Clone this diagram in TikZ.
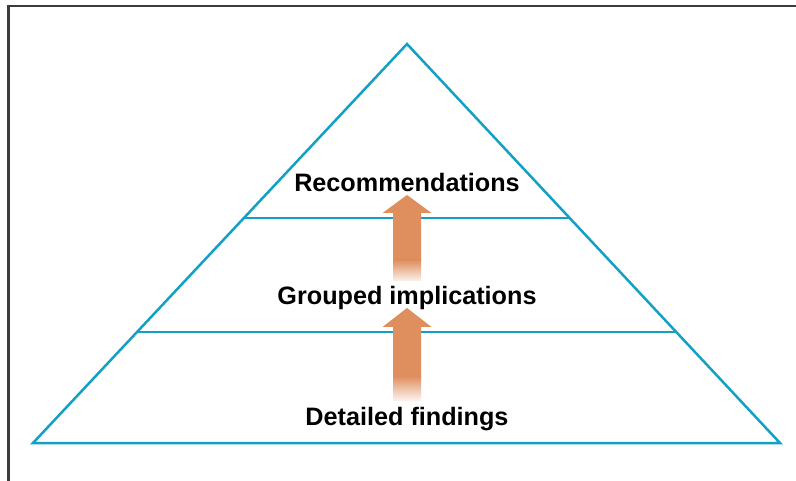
\documentclass[tikz,border=0pt]{standalone}
\usepackage{fontspec}
\setmainfont{Liberation Sans}
\usetikzlibrary{calc}
\definecolor{pyrblue}{RGB}{20,160,196}
\definecolor{arrowc}{RGB}{223,142,94}
\definecolor{framec}{RGB}{60,60,60}
\newcommand{\pyrarrow}[5]{%
  % #1 x centre, #2 tip y, #3 head base y, #4 fade start y, #5 fade end y
  \fill[arrowc] (#1,#2) -- ($(#1,#3)+(24.5,0)$) -- ($(#1,#3)+(14,0)$) -- ($(#1,#4)+(14,0.5)$)
     -- ($(#1,#4)+(-14,0.5)$) -- ($(#1,#3)+(-14,0)$) -- ($(#1,#3)+(-24.5,0)$) -- cycle;
  \shade[top color=arrowc, bottom color=arrowc!12] ($(#1,#4)+(-14,0)$) rectangle ($(#1,#5)+(14,0)$);
}
\begin{document}
\begin{tikzpicture}[x=1pt,y=-1pt,
  frame/.style={draw=framec,line width=2.2pt},
  tri/.style={draw=pyrblue,line width=2.5pt,line join=miter},
  level/.style={draw=pyrblue,line width=2.5pt},
  lbl/.style={font=\fontsize{25.2}{29}\selectfont\bfseries,text=black,inner sep=0pt,anchor=base}]
\useasboundingbox (0,0) rectangle (796,481);
\draw[frame] (8.5,481) -- (8.5,6) -- (796,6);
\coordinate (apex) at (407,44);
\coordinate (bl) at (33,443);
\coordinate (br) at (780,443);
\coordinate (l1a) at ($(apex)!174/399!(bl)$);
\coordinate (l1b) at ($(apex)!174/399!(br)$);
\coordinate (l2a) at ($(apex)!288/399!(bl)$);
\coordinate (l2b) at ($(apex)!288/399!(br)$);
\draw[tri] (bl) -- (apex) -- (br) -- cycle;
\draw[level] (l1a) -- (l1b);
\draw[level] (l2a) -- (l2b);
\pyrarrow{407}{195}{213}{260}{281}
\pyrarrow{407}{308}{327}{376}{400}
\node[lbl] (rec) at (407,192) {Recommendations};
\node[lbl] (grp) at (407,305) {Grouped implications};
\node[lbl] (det) at (407,425) {Detailed findings};
\end{tikzpicture}
\end{document}
